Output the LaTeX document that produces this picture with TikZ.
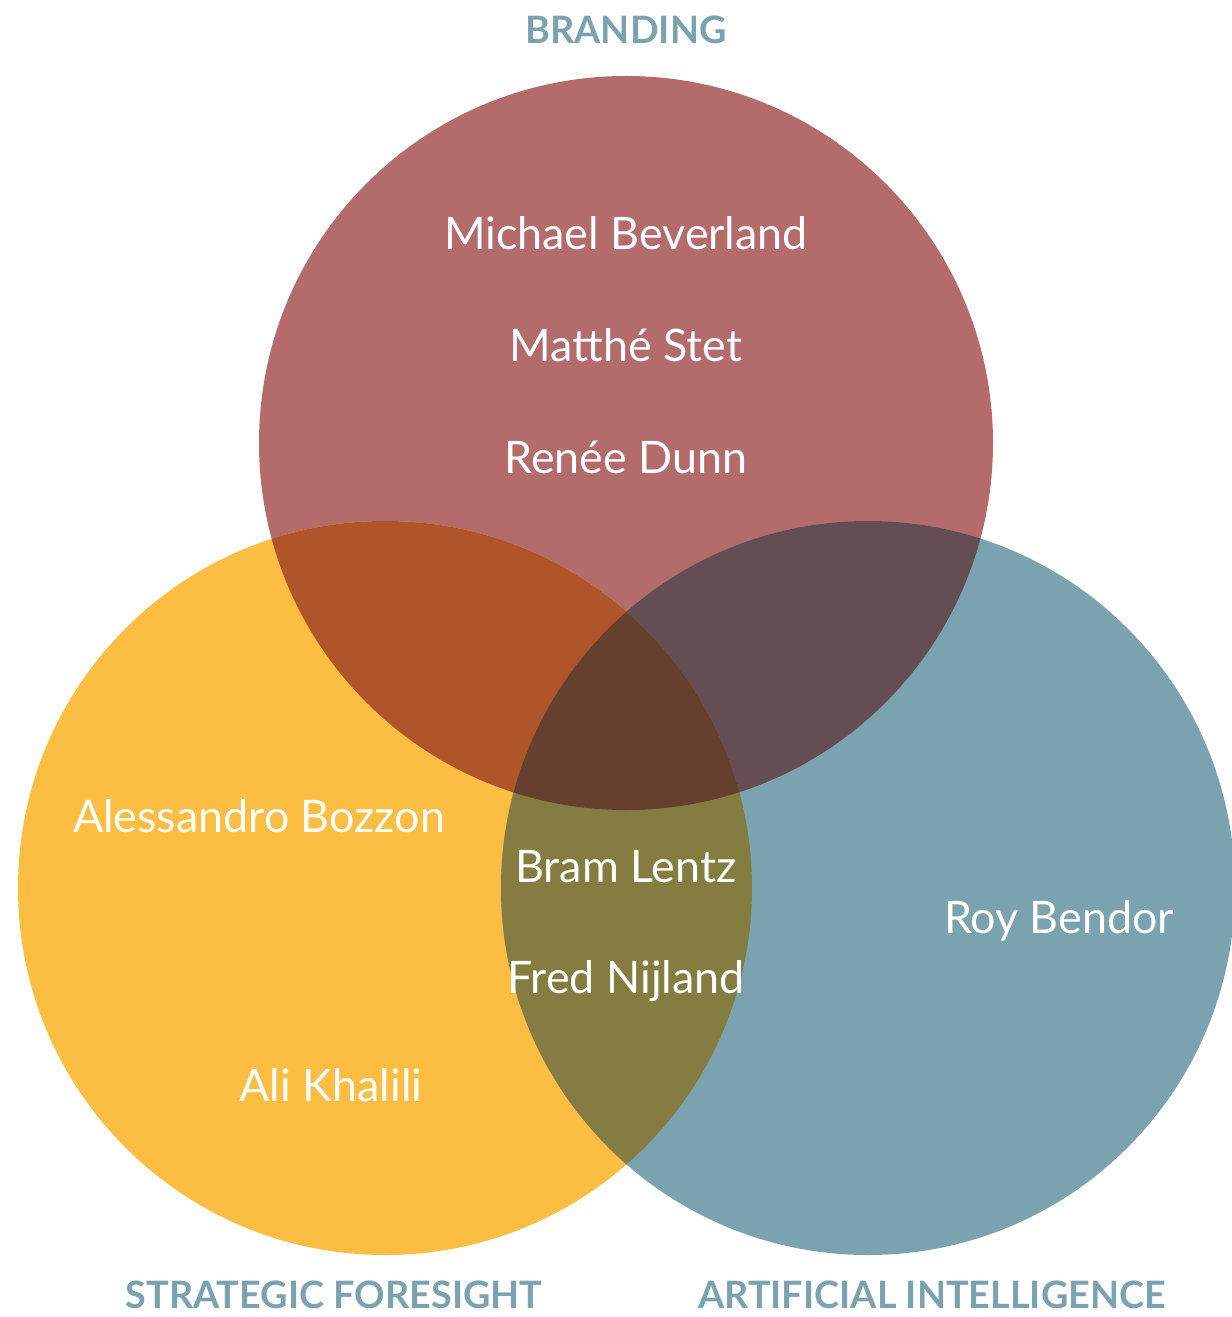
\documentclass[tikz,border=0pt]{standalone}
\usepackage{fontspec}
\setmainfont{Lato}
\usepackage{tikz}
\usetikzlibrary{positioning}
\usepackage{xcolor}
\definecolor{brandred}{HTML}{B36B6B}
\definecolor{foreorange}{HTML}{FBBD42}
\definecolor{aiteal}{HTML}{7AA3AF}
\definecolor{brandfore}{HTML}{B0552A}
\definecolor{brandai}{HTML}{644D53}
\definecolor{foreai}{HTML}{857C42}
\definecolor{allthree}{HTML}{66402E}
\definecolor{fieldteal}{HTML}{7AA3AF}

\tikzset{
  person/.style={text=white, font=\fontsize{25.5}{30}\selectfont, anchor=base, inner sep=0pt},
  field/.style={text=fieldteal, font=\bfseries\fontsize{21.5}{25}\selectfont, anchor=base, inner sep=0pt},
}

\begin{document}
\begin{tikzpicture}[x=0.02cm,y=-0.02cm]
\useasboundingbox (0,0) rectangle (1231,1317);
\def\rad{367}
\coordinate (cBrand) at (626,443);
\coordinate (cFore) at (385,888);
\coordinate (cAI) at (868,888);
% the three fields
\fill[brandred] (cBrand) circle[radius=\rad];
\fill[foreorange] (cFore) circle[radius=\rad];
\fill[aiteal] (cAI) circle[radius=\rad];
% pairwise overlaps
\begin{scope}
\clip (cBrand) circle[radius=\rad];
\fill[brandfore] (cFore) circle[radius=\rad];
\fill[brandai] (cAI) circle[radius=\rad];
\end{scope}
\begin{scope}
\clip (cFore) circle[radius=\rad];
\fill[foreai] (cAI) circle[radius=\rad];
\end{scope}
% centre
\begin{scope}
\clip (cBrand) circle[radius=\rad];
\clip (cFore) circle[radius=\rad];
\fill[allthree] (cAI) circle[radius=\rad];
\end{scope}
% field titles
\node[field] (tBrand) at (626,44) {BRANDING};
\node[field] (tFore) at (334,1308) {STRATEGIC FORESIGHT};
\node[field] (tAI) at (932,1308) {ARTIFICIAL INTELLIGENCE};
% people
\node[person] (michael) at (626,250) {Michael Beverland};
\node[person] (matthe) at (626,362) {Matthé Stet};
\node[person] (renee) at (626,473) {Renée Dunn};
\node[person] (alessandro) at (259,832) {Alessandro Bozzon};
\node[person] (bram) at (626,882) {Bram Lentz};
\node[person] (fred) at (626,993) {Fred Nijland};
\node[person] (roy) at (1059,933) {Roy Bendor};
\node[person] (ali) at (331,1101) {Ali Khalili};
\end{tikzpicture}
\end{document}
